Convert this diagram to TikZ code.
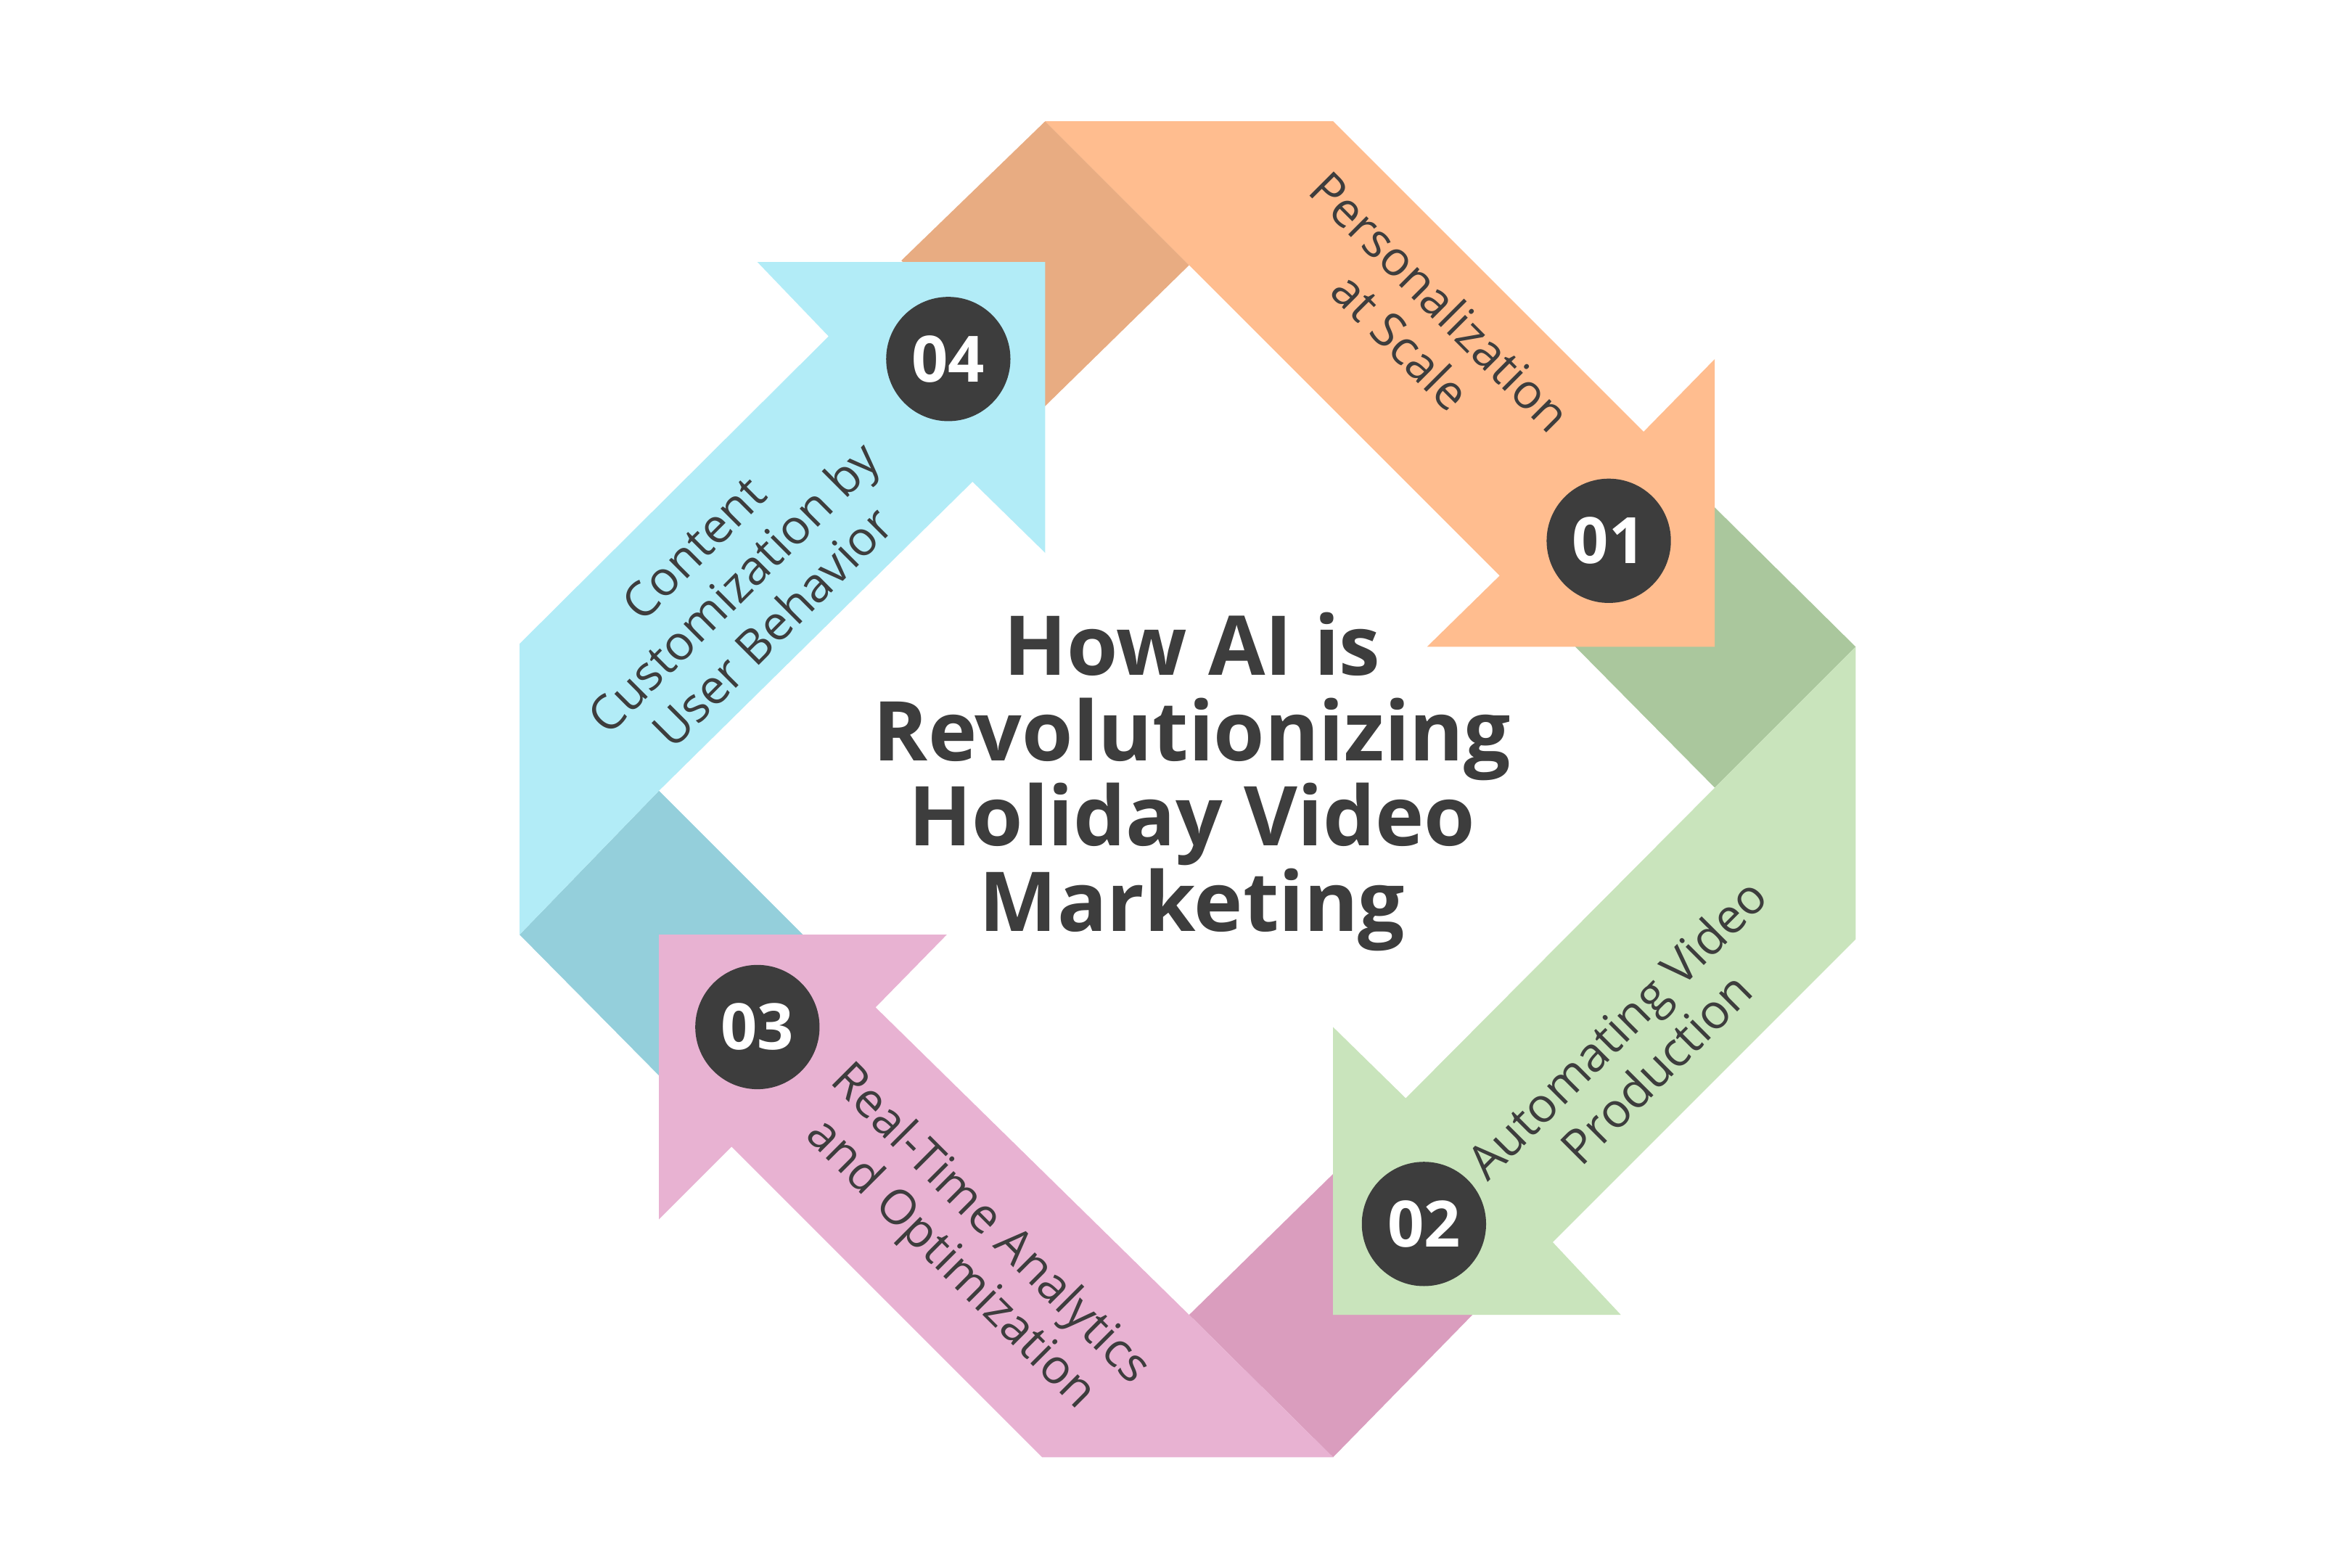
\documentclass[tikz,border=0pt]{standalone}
\usepackage{fontspec}
\setmainfont{Open Sans}
\begin{document}
\begin{tikzpicture}[x=0.01cm,y=-0.01cm]
\definecolor{tx}{HTML}{3D3D3D}
\definecolor{orA}{HTML}{FFBD8F}\definecolor{orF}{HTML}{E8AC82}
\definecolor{grA}{HTML}{C9E4BC}\definecolor{grF}{HTML}{AAC79D}
\definecolor{piA}{HTML}{E8B2D2}\definecolor{piF}{HTML}{DA9DBE}
\definecolor{cyA}{HTML}{B2ECF7}\definecolor{cyF}{HTML}{94CFDB}
\tikzset{num/.style={circle,fill=tx,minimum size=0.82cm,inner sep=0pt,text=white,font=\bfseries\fontsize{12}{14}\selectfont},
lbl/.style={text=tx,align=center,font=\fontsize{9}{10.5}\selectfont}}
\useasboundingbox (0,0) rectangle (1552,1035);
\fill[white] (0,0) rectangle (1552,1035);
% folds
\fill[orF] (595,172)--(690,80)--(785,175)--(690,268)--cycle;
\fill[grF] (1132,335)--(1225,427)--(1132,520)--(1040,427)--cycle;
\fill[piF] (785,868)--(880,775)--(972,868)--(880,962)--cycle;
\fill[cyF] (343,617)--(435,522)--(530,617)--(435,710)--cycle;
% arrows
\fill[orA] (690,80)--(880,80)--(1085,285)--(1132,237)--(1132,427)--(942,427)--(990,380)--(785,175)--cycle;
\fill[grA] (1225,427)--(1225,620)--(1025,820)--(1070,868)--(880,868)--(880,678)--(928,725)--(1132,520)--cycle;
\fill[piA] (880,962)--(688,962)--(483,757)--(435,805)--(435,617)--(625,617)--(578,665)--(785,868)--cycle;
\fill[cyA] (343,617)--(343,425)--(547,222)--(500,173)--(690,173)--(690,365)--(642,318)--(435,522)--cycle;
% numbers
\node[num] (n1) at (1062,357) {01};
\node[num] (n2) at (940,808) {02};
\node[num] (n3) at (500,678) {03};
\node[num] (n4) at (626,237) {04};
% labels
\node[lbl,rotate=-45] (l1) at (938,212) {Personalization\\at Scale};
\node[lbl,rotate=45] (l2) at (1080,692) {Automating Video\\Production};
\node[lbl,rotate=-45] (l3) at (640,822) {Real-Time Analytics\\and Optimization};
\node[lbl,rotate=45] (l4) at (484,388) {Content\\Customization by\\User Behavior};
\node[text=tx,align=center,font=\bfseries\fontsize{15.5}{16}\selectfont] (t) at (787,516) {How AI is\\Revolutionizing\\Holiday Video\\Marketing};
\end{tikzpicture}
\end{document}
